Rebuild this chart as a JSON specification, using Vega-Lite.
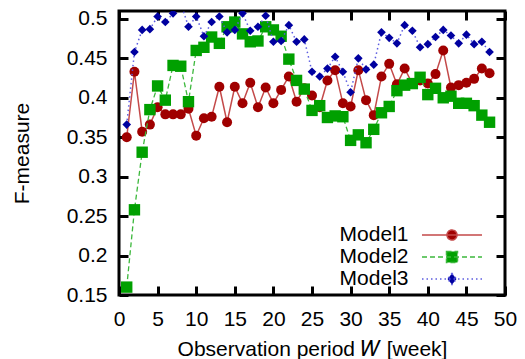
{
  "$schema": "https://vega.github.io/schema/vega-lite/v6.json",
  "width": 386,
  "height": 284,
  "autosize": "none",
  "padding": {"left": 119, "top": 11, "right": 20, "bottom": 64},
  "background": "white",
  "data": {"values": [
    {"w":1,"m":"Model1","f":0.350},{"w":2,"m":"Model1","f":0.433},{"w":3,"m":"Model1","f":0.357},{"w":4,"m":"Model1","f":0.366},{"w":5,"m":"Model1","f":0.388},{"w":6,"m":"Model1","f":0.379},{"w":7,"m":"Model1","f":0.379},{"w":8,"m":"Model1","f":0.379},{"w":9,"m":"Model1","f":0.386},{"w":10,"m":"Model1","f":0.352},{"w":11,"m":"Model1","f":0.374},{"w":12,"m":"Model1","f":0.376},{"w":13,"m":"Model1","f":0.414},{"w":14,"m":"Model1","f":0.369},{"w":15,"m":"Model1","f":0.414},{"w":16,"m":"Model1","f":0.393},{"w":17,"m":"Model1","f":0.419},{"w":18,"m":"Model1","f":0.388},{"w":19,"m":"Model1","f":0.413},{"w":20,"m":"Model1","f":0.393},{"w":21,"m":"Model1","f":0.410},{"w":22,"m":"Model1","f":0.427},{"w":23,"m":"Model1","f":0.395},{"w":24,"m":"Model1","f":0.412},{"w":25,"m":"Model1","f":0.403},{"w":26,"m":"Model1","f":0.388},{"w":27,"m":"Model1","f":0.422},{"w":28,"m":"Model1","f":0.435},{"w":29,"m":"Model1","f":0.393},{"w":30,"m":"Model1","f":0.389},{"w":31,"m":"Model1","f":0.435},{"w":32,"m":"Model1","f":0.397},{"w":33,"m":"Model1","f":0.378},{"w":34,"m":"Model1","f":0.427},{"w":35,"m":"Model1","f":0.443},{"w":36,"m":"Model1","f":0.417},{"w":37,"m":"Model1","f":0.437},{"w":38,"m":"Model1","f":0.418},{"w":39,"m":"Model1","f":0.422},{"w":40,"m":"Model1","f":0.418},{"w":41,"m":"Model1","f":0.430},{"w":42,"m":"Model1","f":0.460},{"w":43,"m":"Model1","f":0.413},{"w":44,"m":"Model1","f":0.416},{"w":45,"m":"Model1","f":0.419},{"w":46,"m":"Model1","f":0.424},{"w":47,"m":"Model1","f":0.437},{"w":48,"m":"Model1","f":0.431},
    {"w":1,"m":"Model2","f":0.160},{"w":2,"m":"Model2","f":0.258},{"w":3,"m":"Model2","f":0.331},{"w":4,"m":"Model2","f":0.385},{"w":5,"m":"Model2","f":0.415},{"w":6,"m":"Model2","f":0.397},{"w":7,"m":"Model2","f":0.441},{"w":8,"m":"Model2","f":0.440},{"w":9,"m":"Model2","f":0.395},{"w":10,"m":"Model2","f":0.460},{"w":11,"m":"Model2","f":0.464},{"w":12,"m":"Model2","f":0.477},{"w":13,"m":"Model2","f":0.469},{"w":14,"m":"Model2","f":0.490},{"w":15,"m":"Model2","f":0.496},{"w":16,"m":"Model2","f":0.481},{"w":17,"m":"Model2","f":0.471},{"w":18,"m":"Model2","f":0.472},{"w":19,"m":"Model2","f":0.490},{"w":20,"m":"Model2","f":0.486},{"w":21,"m":"Model2","f":0.478},{"w":22,"m":"Model2","f":0.449},{"w":23,"m":"Model2","f":0.422},{"w":24,"m":"Model2","f":0.411},{"w":25,"m":"Model2","f":0.384},{"w":26,"m":"Model2","f":0.390},{"w":27,"m":"Model2","f":0.375},{"w":28,"m":"Model2","f":0.377},{"w":29,"m":"Model2","f":0.376},{"w":30,"m":"Model2","f":0.346},{"w":31,"m":"Model2","f":0.353},{"w":32,"m":"Model2","f":0.343},{"w":33,"m":"Model2","f":0.360},{"w":34,"m":"Model2","f":0.381},{"w":35,"m":"Model2","f":0.389},{"w":36,"m":"Model2","f":0.409},{"w":37,"m":"Model2","f":0.416},{"w":38,"m":"Model2","f":0.418},{"w":39,"m":"Model2","f":0.426},{"w":40,"m":"Model2","f":0.404},{"w":41,"m":"Model2","f":0.412},{"w":42,"m":"Model2","f":0.400},{"w":43,"m":"Model2","f":0.402},{"w":44,"m":"Model2","f":0.393},{"w":45,"m":"Model2","f":0.393},{"w":46,"m":"Model2","f":0.390},{"w":47,"m":"Model2","f":0.378},{"w":48,"m":"Model2","f":0.369},
    {"w":1,"m":"Model3","f":0.366},{"w":2,"m":"Model3","f":0.458},{"w":3,"m":"Model3","f":0.486},{"w":4,"m":"Model3","f":0.487},{"w":5,"m":"Model3","f":0.503},{"w":6,"m":"Model3","f":0.496},{"w":7,"m":"Model3","f":0.507},{"w":8,"m":"Model3","f":0.520},{"w":9,"m":"Model3","f":0.490},{"w":10,"m":"Model3","f":0.503},{"w":11,"m":"Model3","f":0.478},{"w":12,"m":"Model3","f":0.496},{"w":13,"m":"Model3","f":0.503},{"w":14,"m":"Model3","f":0.483},{"w":15,"m":"Model3","f":0.486},{"w":16,"m":"Model3","f":0.507},{"w":17,"m":"Model3","f":0.485},{"w":18,"m":"Model3","f":0.490},{"w":19,"m":"Model3","f":0.504},{"w":20,"m":"Model3","f":0.471},{"w":21,"m":"Model3","f":0.472},{"w":22,"m":"Model3","f":0.492},{"w":23,"m":"Model3","f":0.471},{"w":24,"m":"Model3","f":0.474},{"w":25,"m":"Model3","f":0.433},{"w":26,"m":"Model3","f":0.427},{"w":27,"m":"Model3","f":0.437},{"w":28,"m":"Model3","f":0.452},{"w":29,"m":"Model3","f":0.433},{"w":30,"m":"Model3","f":0.407},{"w":31,"m":"Model3","f":0.450},{"w":32,"m":"Model3","f":0.436},{"w":33,"m":"Model3","f":0.442},{"w":34,"m":"Model3","f":0.483},{"w":35,"m":"Model3","f":0.476},{"w":36,"m":"Model3","f":0.469},{"w":37,"m":"Model3","f":0.492},{"w":38,"m":"Model3","f":0.485},{"w":39,"m":"Model3","f":0.464},{"w":40,"m":"Model3","f":0.468},{"w":41,"m":"Model3","f":0.477},{"w":42,"m":"Model3","f":0.486},{"w":43,"m":"Model3","f":0.479},{"w":44,"m":"Model3","f":0.469},{"w":45,"m":"Model3","f":0.480},{"w":46,"m":"Model3","f":0.468},{"w":47,"m":"Model3","f":0.471},{"w":48,"m":"Model3","f":0.458}
  ]},
  "layer": [
    {
      "transform": [{"filter": "datum.m === 'Model1'"}],
      "mark": {"type": "line", "clip": true, "strokeWidth": 1.5, "stroke": "#c44a4a"},
      "encoding": {
        "x": {"field": "w", "type": "quantitative", "scale": {"domain": [0, 50], "nice": false},
          "axis": {"orient": "bottom", "offset": -9, "values": [0,5,10,15,20,25,30,35,40,45,50], "labelFlush": false, "tickSize": 9, "labelPadding": 13, "title": "Observation period 𝑊 [week]", "titleY": 69, "titleBaseline": "alphabetic"}},
        "y": {"field": "f", "type": "quantitative", "scale": {"domain": [0.15, 0.51], "nice": false, "zero": false},
          "axis": {"orient": "left", "offset": -9, "values": [0.15,0.2,0.25,0.3,0.35,0.4,0.45,0.5], "labelFlush": false, "format": ".2~f", "tickSize": 9, "labelPadding": 12, "title": "F-measure", "titleX": -106, "titleY": 142, "titleBaseline": "middle"}}
      }
    },
    {
      "transform": [{"filter": "datum.m === 'Model1'"}],
      "mark": {"type": "point", "clip": true, "filled": true, "opacity": 1, "shape": "circle", "size": 100, "fill": "#a00000"},
      "encoding": {"x": {"field": "w", "type": "quantitative", "axis": null}, "y": {"field": "f", "type": "quantitative", "axis": null}}
    },
    {
      "transform": [{"filter": "datum.m === 'Model2'"}],
      "mark": {"type": "line", "clip": true, "strokeWidth": 1.3, "stroke": "#3cb83c", "strokeDash": [5, 3]},
      "encoding": {"x": {"field": "w", "type": "quantitative", "axis": null}, "y": {"field": "f", "type": "quantitative", "axis": null}}
    },
    {
      "transform": [{"filter": "datum.m === 'Model2'"}],
      "mark": {"type": "point", "clip": true, "filled": true, "opacity": 1, "shape": "square", "size": 130, "fill": "#00a000"},
      "encoding": {"x": {"field": "w", "type": "quantitative", "axis": null}, "y": {"field": "f", "type": "quantitative", "axis": null}}
    },
    {
      "transform": [{"filter": "datum.m === 'Model3'"}],
      "mark": {"type": "line", "clip": true, "strokeWidth": 1.5, "stroke": "#5c5ce0", "strokeDash": [1.5, 3]},
      "encoding": {"x": {"field": "w", "type": "quantitative", "axis": null}, "y": {"field": "f", "type": "quantitative", "axis": null}}
    },
    {
      "transform": [{"filter": "datum.m === 'Model3'"}],
      "mark": {"type": "point", "clip": true, "filled": true, "opacity": 1, "shape": "diamond", "size": 75, "fill": "#0000a0"},
      "encoding": {
        "x": {"field": "w", "type": "quantitative", "axis": {"orient": "top", "offset": -9, "values": [0,5,10,15,20,25,30,35,40,45,50], "labels": false, "tickSize": 9, "title": null}},
        "y": {"field": "f", "type": "quantitative", "axis": {"orient": "right", "offset": -9, "values": [0.15,0.2,0.25,0.3,0.35,0.4,0.45,0.5], "labels": false, "tickSize": 9, "title": null}}
      }
    },
    {
      "transform": [{"filter": "false"}],
      "mark": {"type": "point", "filled": true, "opacity": 1},
      "encoding": {
        "x": {"field": "w", "type": "quantitative", "axis": null},
        "y": {"field": "f", "type": "quantitative", "axis": null},
        "fill": {"field": "m", "type": "nominal", "scale": {"domain": ["Model1","Model2","Model3"], "range": ["#a00000", "#00a000", "#0000a0"]}},
        "stroke": {"field": "m", "type": "nominal", "scale": {"domain": ["Model1","Model2","Model3"], "range": ["#c44a4a", "#3cb83c", "#5c5ce0"]}},
        "strokeDash": {"field": "m", "type": "nominal", "scale": {"domain": ["Model1","Model2","Model3"], "range": [[1,0],[5,3],[1.5,3]]}},
        "shape": {"field": "m", "type": "nominal", "scale": {"domain": ["Model1","Model2","Model3"], "range": [
          "M-3.333,0H3.333M0.556,0A0.556,0.556 0 1,1 -0.556,0A0.556,0.556 0 1,1 0.556,0Z",
          "M-3.333,0H3.333M-0.61,-0.61H0.61V0.61H-0.61Z",
          "M-3.333,0H3.333M0,-0.61L0.5,0L0,0.61L-0.5,0Z"]}}
      }
    }
  ],
  "resolve": {"axis": {"x": "independent", "y": "independent"}},
  "config": {
    "font": "Liberation Sans",
    "view": {"stroke": "black", "strokeWidth": 3},
    "legend": {
      "title": null, "orient": "none", "legendX": 300, "legendY": 213.5, "padding": 0,
      "symbolSize": 324, "rowPadding": 0, "symbolOffset": 22.5, "labelOffset": -54, "labelAlign": "right",
      "labelFontSize": 21, "labelFont": "Liberation Sans", "labelColor": "black", "symbolStrokeWidth": 1.5
    },
    "axis": {"domain": false, "grid": false, "ticks": true, "tickColor": "black", "tickWidth": 3, "zindex": 1,
      "labelFont": "Liberation Sans", "labelFontSize": 21, "labelColor": "black",
      "titleFont": "Liberation Sans", "titleFontSize": 21, "titleFontWeight": "normal", "titleColor": "black"}
  }
}
